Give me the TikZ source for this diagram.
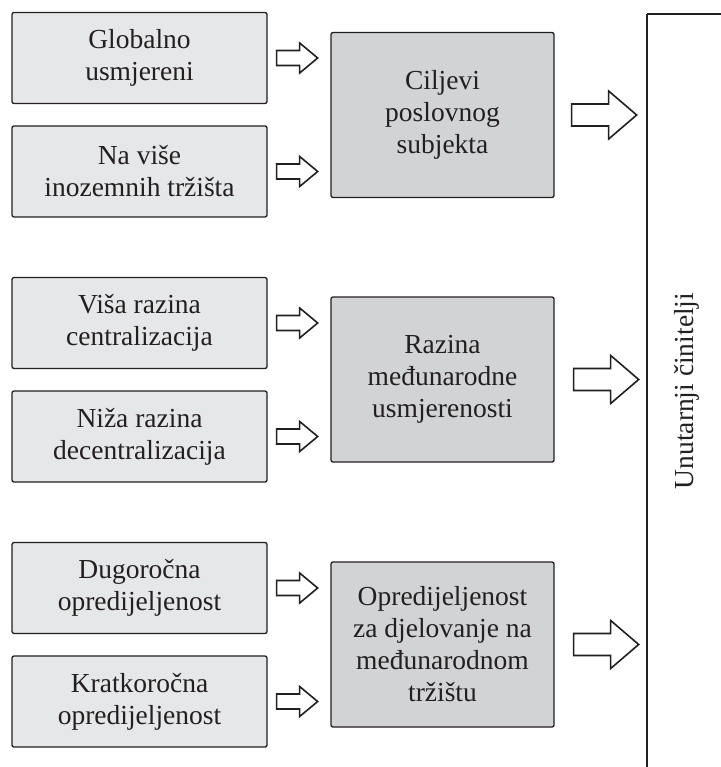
\documentclass[tikz,border=0pt]{standalone}
\usepackage{fontspec}
\setmainfont{Liberation Serif}
\usetikzlibrary{calc}
\definecolor{lightbox}{HTML}{E6E7E8}
\definecolor{midfill}{HTML}{D1D3D4}
\definecolor{txt}{HTML}{231F20}
\tikzset{
  base/.style={draw=txt, line width=1.3pt, rounded corners=2pt, align=center,
    text=txt, font=\fontsize{27.5}{32}\selectfont, inner sep=0pt},
  leftbox/.style={base, fill=lightbox, minimum width=255pt, minimum height=91pt},
  midbox/.style={base, fill=midfill, minimum width=223pt, minimum height=165pt},
  blockarrow/.style={draw=txt, line width=1.6pt, fill=white, line join=miter},
  frameline/.style={draw=txt, line width=1.8pt},
}
\newcommand{\smallarr}[1]{\draw[blockarrow] #1 ++(0,-7.5) -- ++(23,0) -- ++(0,-7.5) -- ++(18,15) -- ++(-18,15) -- ++(0,-7.5) -- ++(-23,0) -- cycle;}
\newcommand{\bigarr}[1]{\draw[blockarrow] #1 ++(0,-11) -- ++(37,0) -- ++(0,-13) -- ++(28,24) -- ++(-28,24) -- ++(0,-13) -- ++(-37,0) -- cycle;}
\begin{document}
\begin{tikzpicture}[x=1pt, y=-1pt]
\useasboundingbox (0,0) rectangle (720,767);

% left boxes
\node[leftbox] (l1) at (139.5,58) {Globalno\\usmjereni};
\node[leftbox] (l2) at (139.5,171.5) {Na više\\inozemnih tržišta};
\node[leftbox] (l3) at (139.5,323) {Viša razina\\centralizacija};
\node[leftbox] (l4) at (139.5,436.5) {Niža razina\\decentralizacija};
\node[leftbox] (l5) at (139.5,588) {Dugoročna\\opredijeljenost};
\node[leftbox] (l6) at (139.5,701.5) {Kratkoročna\\opredijeljenost};

% middle boxes
\node[midbox] (m1) at (442.5,115) {Ciljevi\\poslovnog\\subjekta};
\node[midbox] (m2) at (442.5,379.5) {Razina\\međunarodne\\usmjerenosti};
\node[midbox] (m3) at (442.5,644.5) {Opredijeljenost\\za djelovanje na\\međunarodnom\\tržištu};

% right frame
\coordinate (rt) at (647,14);
\draw[frameline] (rt) -- (725,14);
\draw[frameline] (rt) -- (647,772);
\node[text=txt, font=\fontsize{27.5}{32}\selectfont, rotate=90] (r) at (687,391) {Unutarnji činitelji};

% small arrows
\smallarr{($(l1.east)+(9,0)$)}
\smallarr{($(l2.east)+(9,0)$)}
\smallarr{($(l3.east)+(9,0)$)}
\smallarr{($(l4.east)+(9,0)$)}
\smallarr{($(l5.east)+(9,0)$)}
\smallarr{($(l6.east)+(9,0)$)}

% big arrows
\bigarr{($(m1.east)+(17,0)$)}
\bigarr{($(m2.east)+(19,0)$)}
\bigarr{($(m3.east)+(19,0)$)}
\end{tikzpicture}
\end{document}
